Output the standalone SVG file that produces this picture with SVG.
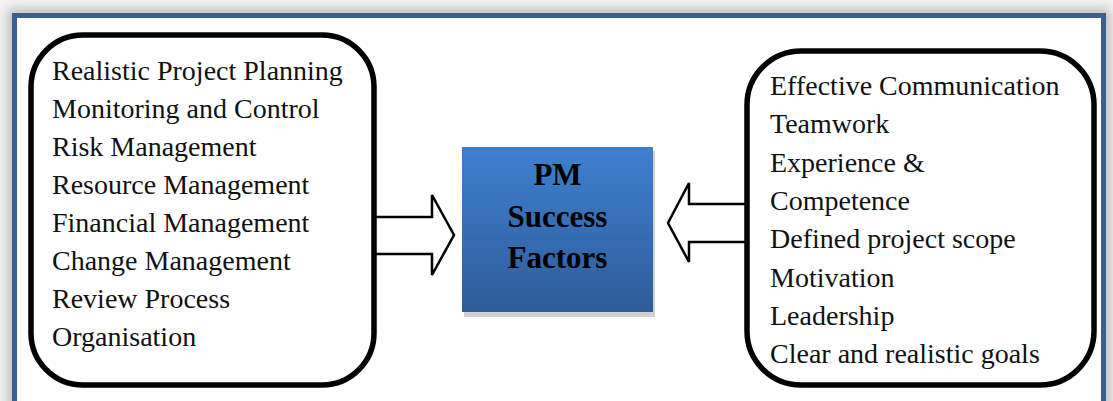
<svg xmlns="http://www.w3.org/2000/svg" width="1113" height="401" viewBox="0 0 1113 401">
  <defs>
    <linearGradient id="boxGrad" x1="0" y1="0" x2="0" y2="1">
      <stop offset="0" stop-color="#3e80d0"/>
      <stop offset="1" stop-color="#2e5c98"/>
    </linearGradient>
    <filter id="blur" x="-5%" y="-10%" width="110%" height="120%">
      <feGaussianBlur stdDeviation="6"/>
    </filter>
    <style>
      .item { font-family: "Liberation Serif", "Times New Roman", serif; font-size: 28px; fill: #111; }
      .title { font-family: "Liberation Serif", "Times New Roman", serif; font-size: 31px; font-weight: bold; fill: #000; text-anchor: middle; }
      .rbox { fill: #fff; stroke: #000; stroke-width: 5.5; }
      .arrow { fill: #fff; stroke: #000; stroke-width: 2.5; stroke-linejoin: miter; }
    </style>
  </defs>

  <!-- background and frame -->
  <rect x="0" y="0" width="1113" height="401" fill="#f4f4f4"/>
  <rect x="14" y="15" width="1090" height="410" fill="none" stroke="#b8b8b8" stroke-width="12" filter="url(#blur)"/>
  <rect x="14.5" y="15.5" width="1089" height="410" fill="#fff" stroke="#3c5f8d" stroke-width="5"/>

  <!-- connectors -->
  <g id="connectors">
    <path class="arrow" d="M374,217 L432,217 L432,195 L454,235 L432,275 L432,254 L374,254"/>
    <path class="arrow" d="M747,204 L689,204 L689,183 L668,223 L689,262 L689,242 L747,242"/>
  </g>

  <!-- left node -->
  <g id="left-factors">
    <rect class="rbox" x="31" y="35" width="343" height="350" rx="52" ry="52"/>
    <text class="item" x="52" y="80">Realistic Project Planning</text>
    <text class="item" x="52" y="118">Monitoring and Control</text>
    <text class="item" x="52" y="156">Risk Management</text>
    <text class="item" x="52" y="194">Resource Management</text>
    <text class="item" x="52" y="232">Financial Management</text>
    <text class="item" x="52" y="270">Change Management</text>
    <text class="item" x="52" y="308">Review Process</text>
    <text class="item" x="52" y="346">Organisation</text>
  </g>

  <!-- center node -->
  <g id="pm-success-factors">
    <rect x="464" y="151" width="191" height="166" fill="#d2d2d2"/>
    <rect x="462" y="147" width="191" height="165" fill="url(#boxGrad)"/>
    <text class="title" x="557.5" y="185">PM</text>
    <text class="title" x="557.5" y="227">Success</text>
    <text class="title" x="557.5" y="268">Factors</text>
  </g>

  <!-- right node -->
  <g id="right-factors">
    <rect class="rbox" x="747" y="51" width="347" height="334" rx="54" ry="54"/>
    <text class="item" x="770" y="95">Effective Communication</text>
    <text class="item" x="770" y="133">Teamwork</text>
    <text class="item" x="770" y="172">Experience &amp;</text>
    <text class="item" x="770" y="210">Competence</text>
    <text class="item" x="770" y="248">Defined project scope</text>
    <text class="item" x="770" y="287">Motivation</text>
    <text class="item" x="770" y="325">Leadership</text>
    <text class="item" x="770" y="363">Clear and realistic goals</text>
  </g>
</svg>
